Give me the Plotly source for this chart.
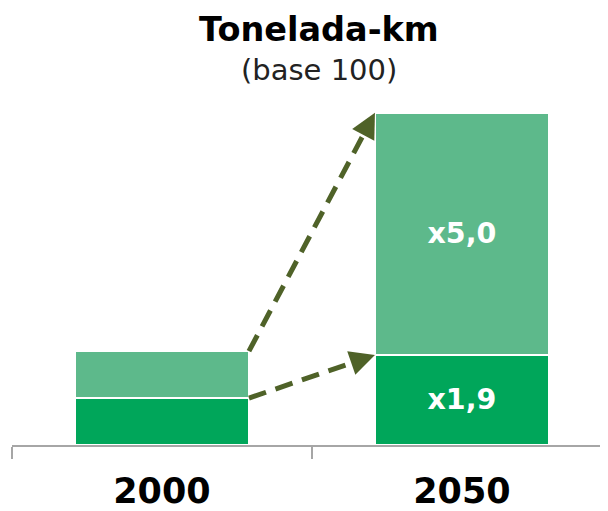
import plotly.graph_objects as go

categories = ["2000", "2050"]
base_values = [50, 96]      # dark green (lower segment)
top_values = [50, 258]      # light green (upper segment)
base_labels = ["", "x1,9"]
top_labels = ["", "x5,0"]

DARK = "#00A65A"
LIGHT = "#5DB98B"
ARROW = "#4F6228"
FONT = "DejaVu Sans"

fig = go.Figure()
fig.add_trace(go.Bar(x=categories, y=base_values, marker=dict(color=DARK, line=dict(color="white", width=1.5)),
                     width=0.58, text=base_labels, textposition="inside", insidetextanchor="middle",
                     textfont=dict(family=FONT, size=28.5, color="white", weight="bold"), showlegend=False,
                     hoverinfo="skip"))
fig.add_trace(go.Bar(x=categories, y=top_values, marker=dict(color=LIGHT, line=dict(color="white", width=1.5)),
                     width=0.58, text=top_labels, textposition="inside", insidetextanchor="middle",
                     textfont=dict(family=FONT, size=28.5, color="white", weight="bold"), showlegend=False,
                     hoverinfo="skip"))

half = 0.29
# arrows: (start x, start y) -> (end x, end y) in data coords
arrows = [
    (half, base_values[0], 1 - half, base_values[1], 0.85),
    (half, base_values[0] + top_values[0], 1 - half, base_values[1] + top_values[1], 0.92),
]
for x0, y0, x1, y1, f in arrows:
    xm = x0 + f * (x1 - x0)
    ym = y0 + f * (y1 - y0)
    fig.add_shape(type="line", xref="x", yref="y", x0=x0, y0=y0, x1=xm, y1=ym,
                  line=dict(color=ARROW, width=5, dash="18px,10px"))
    fig.add_annotation(x=x1, y=y1, ax=xm, ay=ym, xref="x", yref="y", axref="x", ayref="y",
                       showarrow=True, arrowhead=2, arrowsize=1, arrowwidth=5, arrowcolor=ARROW, text="")

fig.add_annotation(x=0.515, y=1.205, xref="paper", yref="paper", text="<b>Tonelada-km</b>", showarrow=False,
                   font=dict(family=FONT, size=33.5, color="black"), yanchor="middle")
fig.add_annotation(x=0.515, y=1.088, xref="paper", yref="paper", text="(base 100)", showarrow=False,
                   font=dict(family=FONT, size=29, color="#222222"), yanchor="middle")

fig.update_layout(
    barmode="stack",
    width=600, height=503,
    margin=dict(l=4, r=0, t=92, b=61),
    plot_bgcolor="white", paper_bgcolor="white",
    xaxis=dict(range=[-0.5, 1.487], showline=True, linecolor="#A6A6A6", linewidth=2,
               ticks="outside", tickson="boundaries", ticklen=12, tickcolor="#A6A6A6", tickwidth=2,
               tickfont=dict(family=FONT, size=35, color="black", weight="bold"), ticklabelstandoff=14,
               showgrid=False, fixedrange=True),
    yaxis=dict(range=[0, 367.7], visible=False, showgrid=False, fixedrange=True),
)

fig.write_html("out.html")
